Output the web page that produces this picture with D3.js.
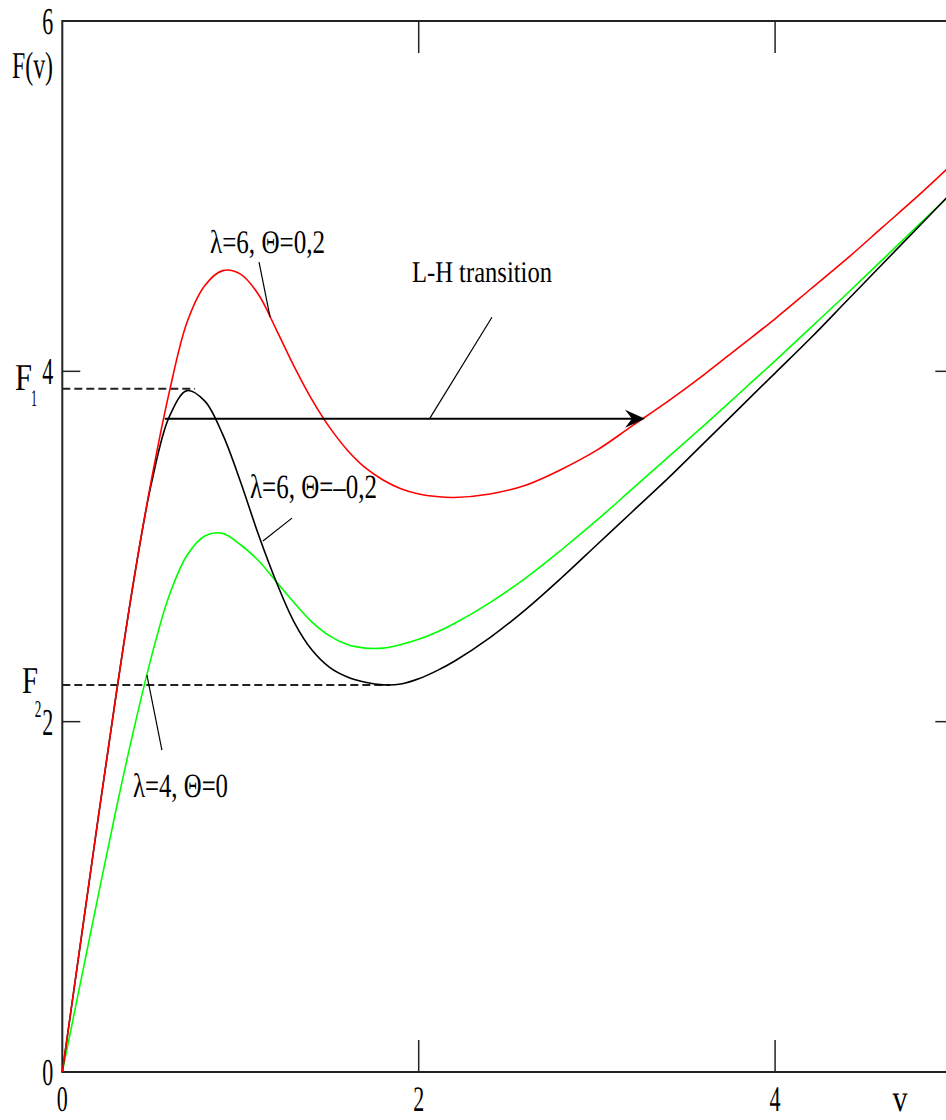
<!DOCTYPE html>
<html>
<head>
<meta charset="utf-8">
<script src="https://cdn.jsdelivr.net/npm/d3@7/dist/d3.min.js"></script>
<style>
  html, body { margin: 0; padding: 0; background: #fff; overflow: hidden; }
  svg { display: block; }
  text { text-rendering: geometricPrecision; }
</style>
</head>
<body>
<svg id="chart" width="946" height="1120"></svg>
<script>
// Sample points along v (fine steps through the hump, coarser along the linear tail)
const vGrid  = [0, 0.1, 0.2, 0.3, 0.4, 0.5, 0.6, 0.7, 0.8, 0.9, 1.0, 1.1, 1.2, 1.3, 1.4, 1.5, 1.6, 1.7, 1.8, 1.9, 2.0, 2.1, 2.2,
                2.4, 2.6, 2.8, 3.0, 3.2, 3.4, 3.6, 3.8, 4.0, 4.2, 4.4, 4.6, 4.8, 5.0];

// F(v) for λ=6, Θ=0,2
const fRed   = [0, 0.72, 1.44, 2.14, 2.8, 3.38, 3.88, 4.28, 4.49, 4.575, 4.555, 4.44, 4.24, 4.03, 3.84, 3.68, 3.55, 3.45, 3.38, 3.33, 3.30, 3.285, 3.28,
                3.30, 3.35, 3.44, 3.55, 3.69, 3.83, 3.98, 4.14, 4.30, 4.47, 4.64, 4.82, 5.00, 5.19];
// F(v) for λ=6, Θ=–0,2
const fBlack = [0, 0.72, 1.44, 2.14, 2.8, 3.36, 3.74, 3.89, 3.83, 3.64, 3.37, 3.07, 2.80, 2.57, 2.41, 2.31, 2.255, 2.225, 2.21, 2.215, 2.245, 2.29, 2.345,
                2.48, 2.64, 2.82, 3.01, 3.20, 3.39, 3.59, 3.79, 3.99, 4.19, 4.40, 4.61, 4.82, 5.03];
// F(v) for λ=4, Θ=0
const fGreen = [0, 0.5, 1.0, 1.49, 1.95, 2.37, 2.72, 2.95, 3.06, 3.075, 3.01, 2.92, 2.80, 2.68, 2.57, 2.49, 2.44, 2.42, 2.42, 2.44, 2.47, 2.51, 2.56,
                2.68, 2.82, 2.98, 3.15, 3.33, 3.51, 3.69, 3.875, 4.06, 4.25, 4.44, 4.635, 4.83, 5.025];

// Axis ticks
const xTicks = [0, 2, 4];
const yTicks = [0, 2, 4, 6];

// Threshold levels and the L-H jump
const F1 = 3.9, F1_vEnd = 0.745;
const F2 = 2.21, F2_vEnd = 1.84;
const jumpF = 3.73, jumpFrom = 0.575, jumpTo = 3.27;

const FONT = "'Liberation Serif', 'DejaVu Serif', serif";

const svg = d3.select("#chart");
const x = d3.scaleLinear().domain([0, 5]).range([62.3, 953.3]);
const y = d3.scaleLinear().domain([0, 6]).range([1072, 21]);

// Text helper: width fixed with textLength to get the narrow serif look
function label(str, px, py, size, len, anchor) {
  const t = svg.append("text")
    .attr("x", px).attr("y", py)
    .attr("font-family", FONT)
    .attr("font-size", size)
    .attr("fill", "#000")
    .attr("textLength", len)
    .attr("lengthAdjust", "spacingAndGlyphs")
    .text(str);
  if (anchor) t.attr("text-anchor", anchor);
  return t;
}

// Small subscript digits: horizontally squeezed with a transform
function subscript(str, px, py, size, sx) {
  return svg.append("text")
    .attr("transform", `translate(${px},${py}) scale(${sx},1)`)
    .attr("font-family", FONT)
    .attr("font-size", size)
    .attr("fill", "#000")
    .attr("text-anchor", "middle")
    .text(str);
}

// Frame with inward ticks
const frame = svg.append("g").attr("stroke", "#222").attr("fill", "none");
frame.append("rect")
  .attr("x", x(0)).attr("y", y(6))
  .attr("width", x(5) - x(0)).attr("height", y(0) - y(6))
  .attr("stroke-width", 2);

xTicks.filter(d => d > 0).forEach(d => {
  frame.append("line").attr("x1", x(d)).attr("x2", x(d)).attr("y1", y(0)).attr("y2", y(0) - 32).attr("stroke-width", 1.5);
  frame.append("line").attr("x1", x(d)).attr("x2", x(d)).attr("y1", y(6)).attr("y2", y(6) + 32).attr("stroke-width", 1.5);
});
yTicks.filter(d => d > 0 && d < 6).forEach(d => {
  frame.append("line").attr("x1", x(0)).attr("x2", x(0) + 18).attr("y1", y(d)).attr("y2", y(d)).attr("stroke-width", 1.5);
  frame.append("line").attr("x1", x(5)).attr("x2", x(5) - 18).attr("y1", y(d)).attr("y2", y(d)).attr("stroke-width", 1.5);
});

// Tick labels
xTicks.forEach(d => label(String(d), x(d), 1111, 36, 11, "middle"));
yTicks.forEach(d => label(String(d), x(0) - 9, y(d) + 13, 38, 11, "end"));

// Axis titles
label("F(v)", 12, 78, 38, 41);
label("v", 900, 1111, 38, 15, "middle");

// F1 / F2 level markers
label("F", 15, 390, 38, 17);
subscript("1", 34, 406, 24, 0.5);
label("F", 22, 693, 38, 16);
subscript("2", 38, 717, 24, 0.55);

const dashed = svg.append("g").attr("stroke", "#222").attr("stroke-width", 2).attr("stroke-dasharray", "8,4");
dashed.append("line").attr("x1", x(0)).attr("x2", x(F1_vEnd)).attr("y1", y(F1)).attr("y2", y(F1));
dashed.append("line").attr("x1", x(0)).attr("x2", x(F2_vEnd)).attr("y1", y(F2)).attr("y2", y(F2));

// Curves
const line = d3.line().x(d => x(d[0])).y(d => y(d[1])).curve(d3.curveCatmullRom.alpha(0.5));
const series = [
  { f: fGreen, color: "#00ff00" },
  { f: fBlack, color: "#000000" },
  { f: fRed,   color: "#ff0000" }
];
series.forEach(s => {
  svg.append("path")
    .datum(vGrid.map((v, i) => [v, s.f[i]]))
    .attr("d", line)
    .attr("fill", "none")
    .attr("stroke", s.color)
    .attr("stroke-width", 1.6);
});

// L-H transition arrow
svg.append("line")
  .attr("x1", x(jumpFrom)).attr("x2", x(jumpTo) - 8)
  .attr("y1", y(jumpF)).attr("y2", y(jumpF))
  .attr("stroke", "#000").attr("stroke-width", 2);
const tipX = x(jumpTo), tipY = y(jumpF);
svg.append("path")
  .attr("d", `M${tipX},${tipY} L${tipX - 20},${tipY - 9} L${tipX - 13},${tipY} L${tipX - 20},${tipY + 9} Z`)
  .attr("fill", "#000");

// Annotation leaders (v, F endpoints)
const leaders = [
  [[2.411, 4.309], [2.063, 3.733]],
  [[1.104, 4.623], [1.166, 4.309]],
  [[1.289, 3.162], [1.126, 3.031]],
  [[0.475, 2.266], [0.559, 1.838]]
];
leaders.forEach(l => {
  svg.append("line")
    .attr("x1", x(l[0][0])).attr("y1", y(l[0][1]))
    .attr("x2", x(l[1][0])).attr("y2", y(l[1][1]))
    .attr("stroke", "#000").attr("stroke-width", 1.2);
});

// Annotation texts
label("L-H transition", 412, 282, 30, 140);
label("λ=6, Θ=0,2", 210, 253, 33, 115);
label("λ=6, Θ=–0,2", 250, 498, 34, 127);
label("λ=4, Θ=0", 133, 797, 34, 95);
</script>
</body>
</html>
